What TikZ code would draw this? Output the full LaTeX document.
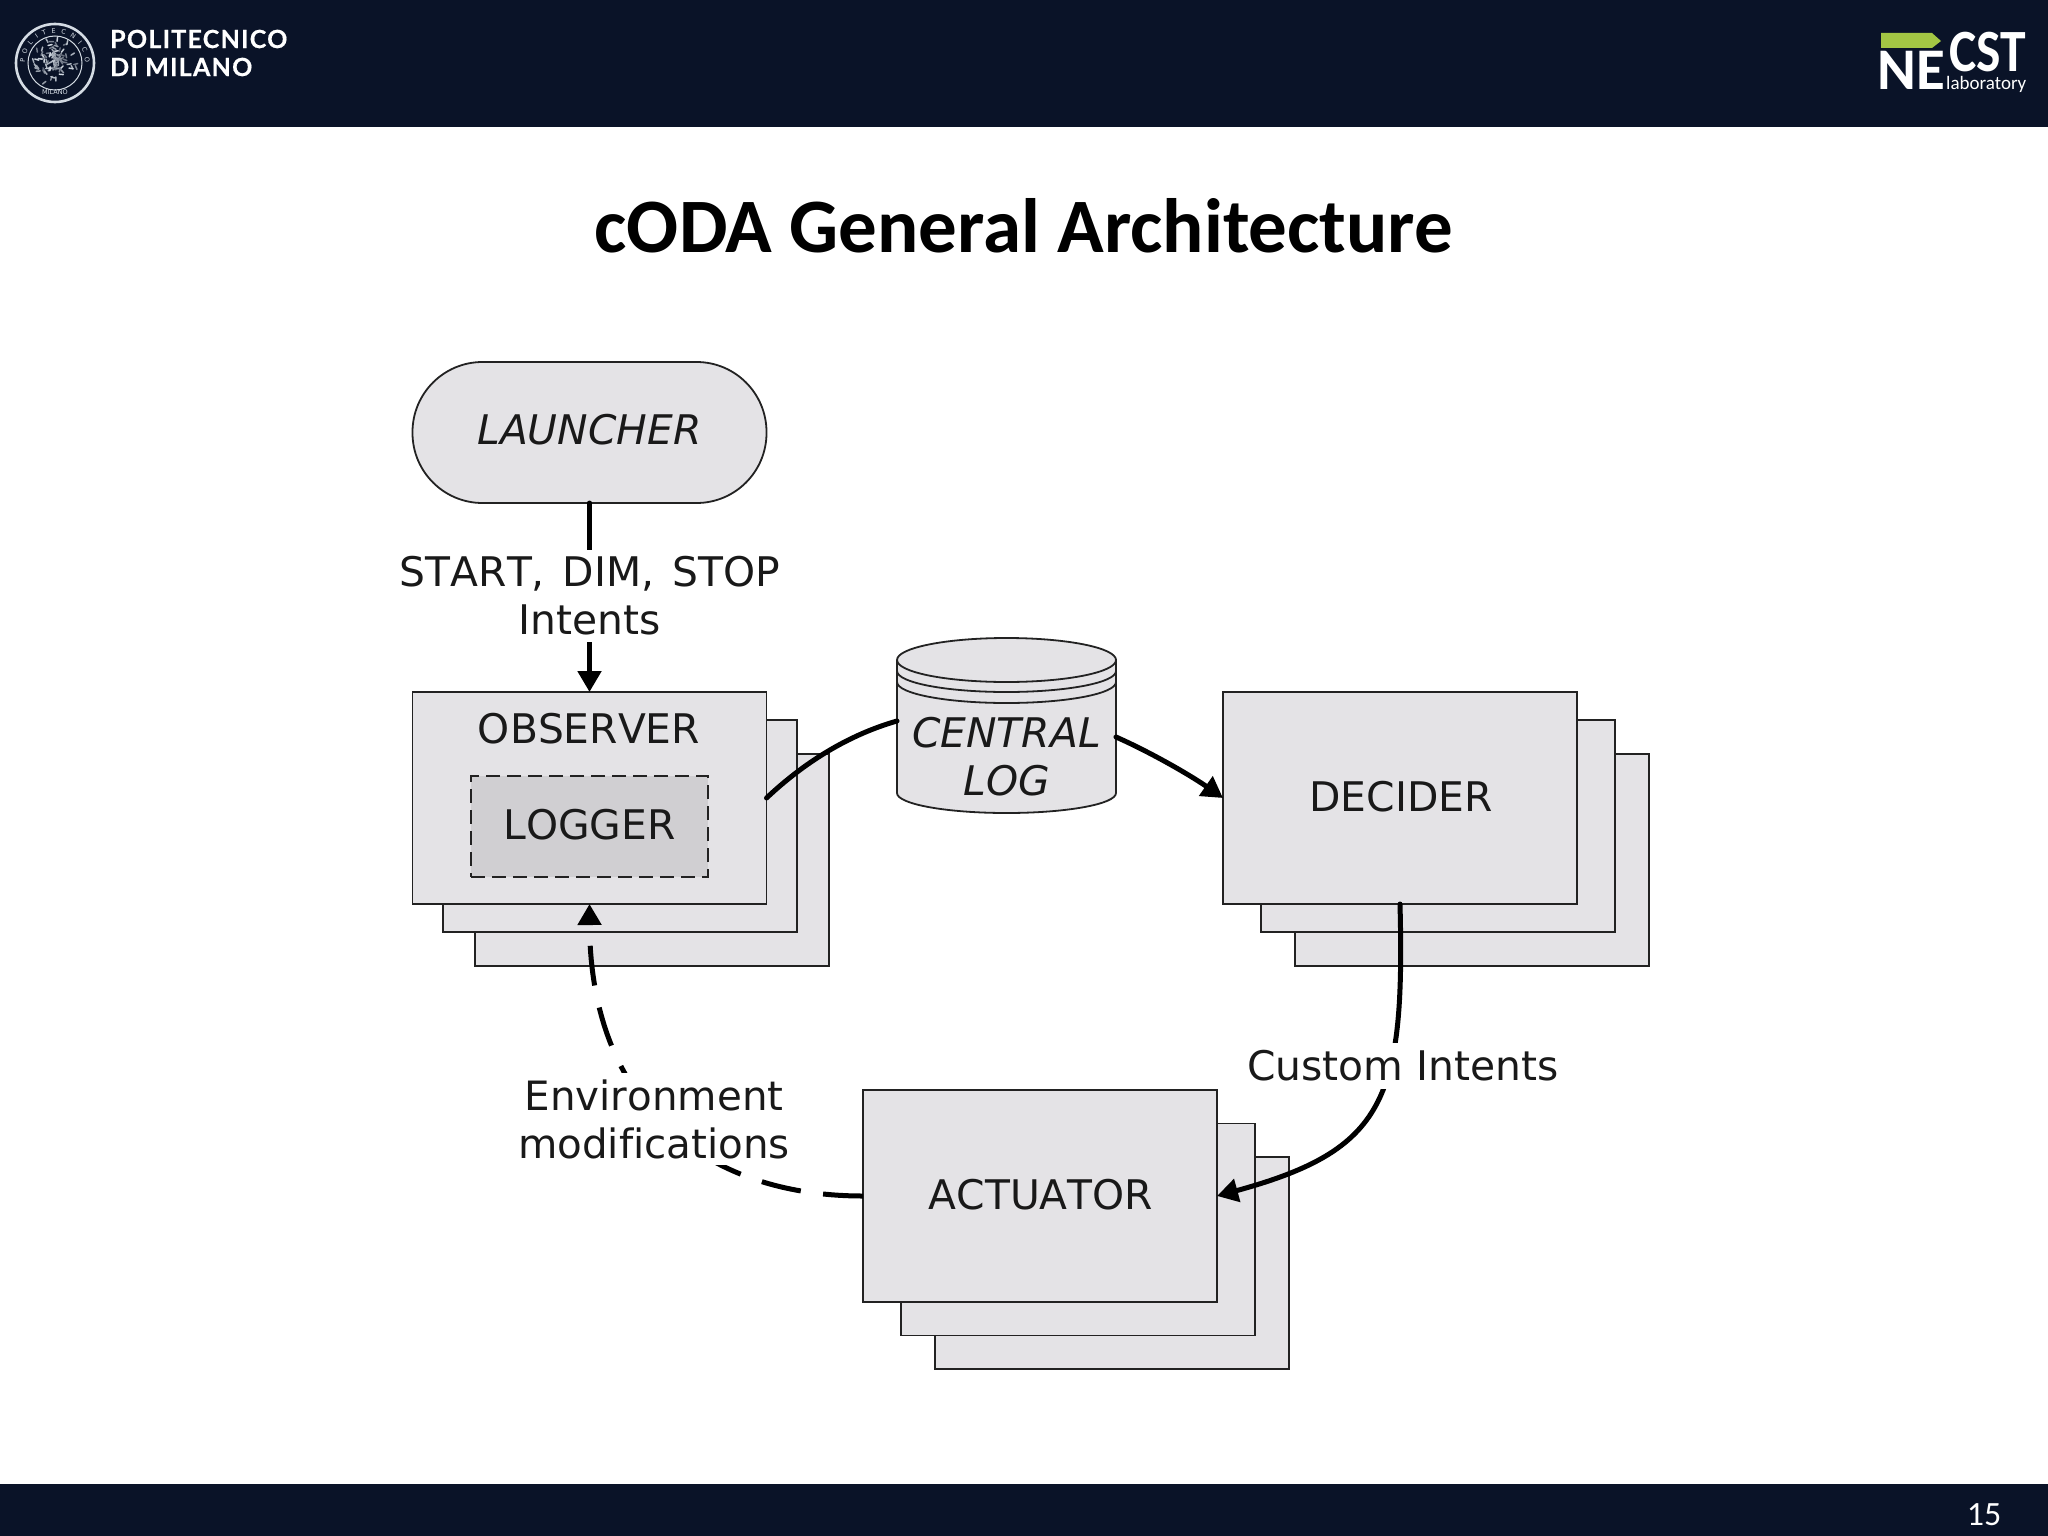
\documentclass[tikz,border=0pt]{standalone}
\usepackage{graphicx}
\usepackage{fontspec}
\setmainfont[Ligatures=NoCommon,Kerning=Off]{DejaVu Sans}
\newfontfamily\titlefont[Ligatures=TeX]{Carlito}
\newfontfamily\polifont[LetterSpace=5,FakeBold=0.6]{Lato}
\usetikzlibrary{arrows.meta,decorations.text}
\definecolor{barc}{HTML}{0A1328}
\definecolor{boxc}{HTML}{E4E3E6}
\definecolor{logc}{HTML}{D0CFD2}
\definecolor{linec}{HTML}{222222}
\definecolor{greenc}{HTML}{A3C644}
\definecolor{sealc}{HTML}{D5DCE4}
\tikzset{
  panel/.style={draw=linec,fill=boxc,line width=1.8pt,minimum width=354pt,minimum height=212pt,inner sep=0pt,outer sep=0pt},
  pill/.style={draw=linec,fill=boxc,line width=1.8pt,rounded corners=70pt,minimum width=354pt,minimum height=141pt,inner sep=0pt,outer sep=0pt},
  inner box/.style={draw=linec,fill=logc,line width=2.2pt,dash pattern=on 14pt off 7pt,minimum width=237pt,minimum height=101pt,inner sep=0pt},
  txt/.style={inner sep=0pt,font=\fontsize{40.8}{48}\selectfont,align=center,text=black!90},
  otxt/.style={txt,font=\fontsize{40.8}{48}\selectfont\itshape},
  lbl/.style={txt,fill=white,inner xsep=4pt,inner ysep=6pt},
  conn/.style={line width=5pt,draw=black,line cap=round},
  tip/.style={-{Triangle[length=21pt,width=23pt]}},
  whitetxt/.style={inner sep=0pt,text=white}
}
\begin{document}
\begin{tikzpicture}[x=1pt,y=-1pt]
\useasboundingbox (0,0) rectangle (2048,1536);
\fill[white] (0,0) rectangle (2048,1536);
\fill[barc] (0,0) rectangle (2048,127);
\fill[barc] (0,1484) rectangle (2048,1536);
% Polimi seal
\draw[sealc,line width=2.6pt] (55,63) circle (39);
\draw[sealc,line width=1pt] (55,63) circle (27);
\path[decorate,decoration={text along path,text align={fit to path},text={|\fontsize{6.5}{6.5}\selectfont\color{sealc}|POLITECNICO}}] (25,63) arc (180:360:30);
\node[whitetxt,text=sealc,font=\fontsize{6.5}{7}\selectfont] (sealname) at (55,92) {MILANO};
\pgfmathsetseed{15}
\foreach \i in {1,...,90}{
  \pgfmathsetmacro{\ang}{rnd*360}
  \pgfmathsetmacro{\rad}{rnd*23}
  \pgfmathsetmacro{\dir}{rnd*360}
  \pgfmathsetmacro{\grey}{40+rnd*60}
  \draw[sealc!\grey!barc,line width=1.5pt,line cap=round] ({55+\rad*cos(\ang)},{63+\rad*sin(\ang)}) -- ++(\dir:4);
}
\node[whitetxt,anchor=west,font=\fontsize{25}{25}\selectfont\polifont\bfseries] (poli1) at (110,39) {POLITECNICO};
\node[whitetxt,anchor=west,font=\fontsize{25}{25}\selectfont\polifont\bfseries] (poli2) at (110,67) {DI MILANO};
% NECST logo
\fill[greenc] (1881,33) -- (1932,33) -- (1941,41) -- (1932,48) -- (1881,48) -- cycle;
\node[whitetxt,anchor=base west,font=\fontsize{59}{59}\selectfont\titlefont\bfseries,text depth=0pt] (ne) at (1877,90) {NE};
\node[whitetxt,anchor=base west,font=\fontsize{60}{60}\selectfont\titlefont\bfseries,text depth=0pt] (cst) at (1949,72) {\scalebox{0.86}[1]{CST}};
\node[whitetxt,anchor=base west,font=\fontsize{19}{19}\selectfont\titlefont] (lab) at (1946,90) {laboratory};
% title and page number
\node[inner sep=0pt,font=\fontsize{77}{77}\selectfont\titlefont\bfseries,text=black] (title) at (1024,226) {cODA General Architecture};
\node[whitetxt,font=\fontsize{34}{34}\selectfont\titlefont] (page) at (1984,1515) {15};
% boxes
\node[pill] (launcher) at (589.5,432.5) {};
\node[otxt] (launchert) at (589.5,430) {LAUNCHER};
\node[panel] (obs3) at (652,860) {};
\node[panel] (obs2) at (620,826) {};
\node[panel] (obs) at (589.5,798) {};
\node[txt] (obst) at (589,729) {OBSERVER};
\node[inner box] (logger) at (589.5,826.5) {};
\node[txt] (loggert) at (589.5,824.5) {LOGGER};
\node[panel] (dec3) at (1472,860) {};
\node[panel] (dec2) at (1438,826) {};
\node[panel] (dec) at (1400,798) {};
\node[txt] (dect) at (1401,797) {DECIDER};
\node[panel] (act3) at (1112,1263) {};
\node[panel] (act2) at (1078,1229.5) {};
\node[panel] (act) at (1040,1196) {};
\node[txt] (actt) at (1041,1195) {ACTUATOR};
% central log cylinder
\draw[draw=linec,fill=boxc,line width=1.8pt] (897,660) -- (897,793) arc[start angle=180,end angle=0,x radius=109.5,y radius=20] -- (1116,660) arc[start angle=0,end angle=-180,x radius=109.5,y radius=22] -- cycle;
\draw[draw=linec,line width=1.8pt] (897,671) arc[start angle=180,end angle=0,x radius=109.5,y radius=21];
\draw[draw=linec,line width=1.8pt] (897,682) arc[start angle=180,end angle=0,x radius=109.5,y radius=21];
\draw[draw=linec,line width=1.8pt] (897,660) arc[start angle=180,end angle=0,x radius=109.5,y radius=22];
\node[otxt] (logt) at (1006.5,757) {CENTRAL\\LOG};
\coordinate (logL) at (897,721);
\coordinate (logR) at (1116,737);
% connectors
\draw[conn,tip] (launcher.south) -- (obs.north);
\draw[conn] (obs.east) .. controls (810,757) and (855,733) .. (logL);
\draw[conn,tip] (logR) .. controls (1150,752) and (1190,775) .. (dec.west);
\draw[conn,tip] (dec.south) .. controls (1405,1100) and (1385,1150) .. (act.east);
\draw[conn,tip,dash pattern=on 40pt off 22.5pt,line cap=butt] (act.west) .. controls (700,1196) and (590,1100) .. (obs.south);
% labels
\node[lbl,inner ysep=7pt] (l1) at (590,596) {START,\hspace{5pt} DIM,\hspace{5pt} STOP\\Intents};
\node[lbl,inner ysep=8pt] (l2) at (1403,1066) {Custom Intents};
\node[lbl,font=\fontsize{40.4}{48}\selectfont] (l3) at (654,1119) {Environment\\modifications};
\end{tikzpicture}
\end{document}
